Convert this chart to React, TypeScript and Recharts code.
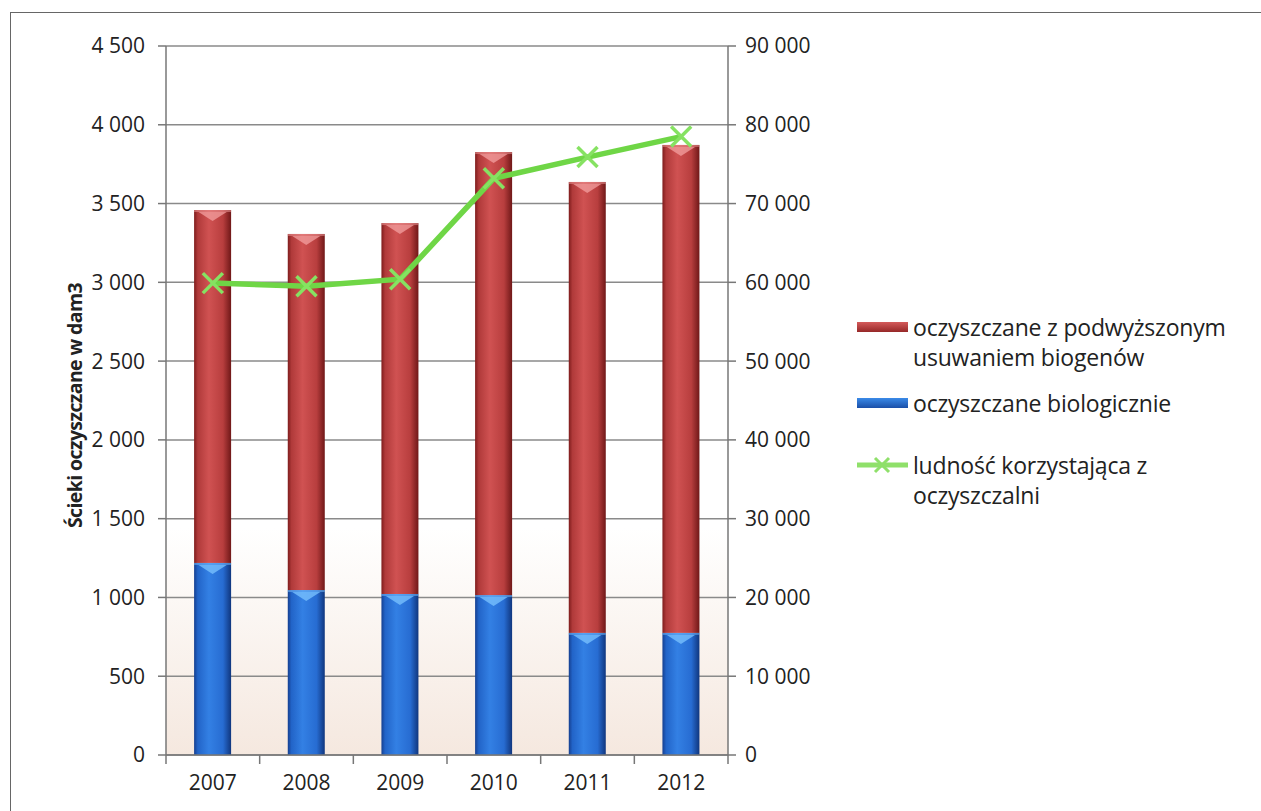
import React from 'react';
import { ComposedChart, Bar, Line, XAxis, YAxis, CartesianGrid, Legend, Label } from 'recharts';

const years = ['2007', '2008', '2009', '2010', '2011', '2012'];
const biological = [1219, 1047, 1022, 1015, 775, 775];
const enhanced = [2240, 2260, 2354, 2812, 2862, 3097];
const population = [59900, 59500, 60400, 73200, 75900, 78500];
const leftTicks = [0, 500, 1000, 1500, 2000, 2500, 3000, 3500, 4000, 4500];
const rightTicks = [0, 10000, 20000, 30000, 40000, 50000, 60000, 70000, 80000, 90000];

const seriesNames = {
  enhanced: 'oczyszczane z podwyższonym usuwaniem biogenów',
  biological: 'oczyszczane biologicznie',
  population: 'ludność korzystająca z oczyszczalni',
};

const data = years.map((y, i) => ({
  year: y,
  biological: biological[i],
  enhanced: enhanced[i],
  population: population[i],
}));

const W = 1261;
const H = 811;
const M = { top: 46, right: 433, bottom: 16, left: 10 };
const LEFT_AXIS_W = 156;
const RIGHT_AXIS_W = 100;
const PLOT_W = W - M.left - M.right - LEFT_AXIS_W - RIGHT_AXIS_W;
const BAND = PLOT_W / years.length;

const FONT = "'Open Sans', 'DejaVu Sans', sans-serif";
const TXT = '#222';

const fmt = (v: number) => String(v).replace(/\B(?=(\d{3})+(?!\d))/g, ' ');

const CylBar = (props: any) => {
  const { x, y, width, height, grad, cap } = props;
  if (!height || height <= 0) return null;
  return (
    <g>
      <rect x={x} y={y} width={width} height={height} fill={`url(#${grad})`} />
      <path
        d={`M${x + width * 0.12},${y + 2} L${x + width * 0.88},${y + 2} L${x + width * 0.5},${y + 11} Z`}
        fill={cap}
        opacity={0.75}
      />
      <rect x={x} y={y} width={width} height={2} fill={cap} opacity={0.5} />
    </g>
  );
};

const XMark = (props: any) => {
  const { cx, cy, index } = props;
  if (cx == null || cy == null) return null;
  const s = 10;
  return (
    <path
      key={`m${index}`}
      d={`M${cx - s},${cy - s}L${cx + s},${cy + s}M${cx + s},${cy - s}L${cx - s},${cy + s}`}
      stroke="#86e262"
      strokeWidth={3.5}
      fill="none"
    />
  );
};

const XTick = (props: any) => {
  const { x, y, payload, index } = props;
  const axisY = y - 20;
  return (
    <g>
      <line x1={x - BAND / 2} y1={axisY} x2={x - BAND / 2} y2={axisY + 9} stroke="#777" strokeWidth={1.5} />
      {index === years.length - 1 && (
        <line x1={x + BAND / 2} y1={axisY} x2={x + BAND / 2} y2={axisY + 9} stroke="#777" strokeWidth={1.5} />
      )}
      <text x={x} y={y} dy="0.72em" textAnchor="middle" fill={TXT} fontSize={21} fontFamily={FONT}>
        {payload.value}
      </text>
    </g>
  );
};

const LegendContent = () => {
  const row: React.CSSProperties = { display: 'flex', alignItems: 'flex-start' };
  const txt: React.CSSProperties = { fontSize: 23, lineHeight: '30px', color: TXT, fontFamily: FONT, letterSpacing: -0.2 };
  return (
    <div>
      <div style={{ ...row, marginBottom: 16 }}>
        <svg width={51} height={30} style={{ flex: 'none', marginRight: 5 }}>
          <rect x={0} y={10} width={51} height={10} fill="url(#redGradH)" />
        </svg>
        <div style={{ ...txt, width: 345 }}>{seriesNames.enhanced}</div>
      </div>
      <div style={{ ...row, marginBottom: 32 }}>
        <svg width={51} height={30} style={{ flex: 'none', marginRight: 5 }}>
          <rect x={0} y={10} width={51} height={10} fill="url(#blueGradH)" />
        </svg>
        <div style={txt}>{seriesNames.biological}</div>
      </div>
      <div style={row}>
        <svg width={51} height={30} style={{ flex: 'none', marginRight: 5 }}>
          <line x1={0} y1={15} x2={51} y2={15} stroke="#8fe06a" strokeWidth={5} />
          <path d="M18,8L32,22M32,8L18,22" stroke="#8fe06a" strokeWidth={3} />
        </svg>
        <div style={{ ...txt, width: 290 }}>{seriesNames.population}</div>
      </div>
    </div>
  );
};

export default function App() {
  return (
    <div style={{ position: 'absolute', left: 0, top: 0, width: W, height: H, background: '#fff', overflow: 'hidden' }}>
      <div
        style={{
          position: 'absolute',
          left: 10,
          top: 12,
          width: 1300,
          height: 900,
          border: '1.5px solid #666',
          boxSizing: 'border-box',
        }}
      />
      <div style={{ position: 'absolute', left: 0, top: 0 }}>
        <ComposedChart width={W} height={H} data={data} margin={M} barCategoryGap="30%">
          <defs>
            <linearGradient id="bgGrad" x1="0" y1="0" x2="0" y2="1">
              <stop offset="0" stopColor="#ffffff" />
              <stop offset="0.68" stopColor="#ffffff" />
              <stop offset="1" stopColor="#f5e8df" />
            </linearGradient>
            <linearGradient id="redGrad" x1="0" y1="0" x2="1" y2="0">
              <stop offset="0" stopColor="#7e1c1c" />
              <stop offset="0.1" stopColor="#b03a3a" />
              <stop offset="0.4" stopColor="#d05252" />
              <stop offset="0.78" stopColor="#b83e3e" />
              <stop offset="1" stopColor="#701818" />
            </linearGradient>
            <linearGradient id="blueGrad" x1="0" y1="0" x2="1" y2="0">
              <stop offset="0" stopColor="#153f90" />
              <stop offset="0.1" stopColor="#2264c8" />
              <stop offset="0.4" stopColor="#3380e4" />
              <stop offset="0.78" stopColor="#276cd2" />
              <stop offset="1" stopColor="#10367e" />
            </linearGradient>
            <linearGradient id="redGradH" x1="0" y1="0" x2="0" y2="1">
              <stop offset="0" stopColor="#d45a5a" />
              <stop offset="1" stopColor="#962828" />
            </linearGradient>
            <linearGradient id="blueGradH" x1="0" y1="0" x2="0" y2="1">
              <stop offset="0" stopColor="#3a8ae8" />
              <stop offset="1" stopColor="#1a4fa8" />
            </linearGradient>
          </defs>
          <CartesianGrid
            yAxisId="left"
            vertical={false}
            stroke="#8a8a8a"
            strokeWidth={1.5}
            fill="url(#bgGrad)"
          />
          <XAxis
            dataKey="year"
            height={40}
            axisLine={{ stroke: '#777', strokeWidth: 1.5 }}
            tickLine={false}
            tickSize={0}
            tickMargin={20}
            tick={<XTick />}
            interval={0}
          />
          <YAxis
            yAxisId="left"
            orientation="left"
            width={LEFT_AXIS_W}
            domain={[0, 4500]}
            ticks={leftTicks}
            tickFormatter={fmt}
            axisLine={{ stroke: '#777', strokeWidth: 1.5 }}
            tickLine={{ stroke: '#777', strokeWidth: 1.5 }}
            tickSize={8}
            tickMargin={13}
            tick={{ fill: TXT, fontSize: 21, fontFamily: FONT }}
            interval={0}
          >
            <Label
              content={(p: any) => {
                const vb = p.viewBox || {};
                const cx = (vb.x ?? 10) + 67;
                const cy = (vb.y ?? 46) + (vb.height ?? 709) / 2 + 5;
                return (
                  <text
                    x={cx}
                    y={cy}
                    transform={`rotate(-90, ${cx}, ${cy})`}
                    textAnchor="middle"
                    dominantBaseline="middle"
                    fill={TXT}
                    fontSize={19.5}
                    fontWeight={700}
                    fontFamily={FONT}
                    letterSpacing={-0.6}
                  >
                    Ścieki oczyszczane w dam3
                  </text>
                );
              }}
            />
          </YAxis>
          <YAxis
            yAxisId="right"
            orientation="right"
            width={RIGHT_AXIS_W}
            domain={[0, 90000]}
            ticks={rightTicks}
            tickFormatter={fmt}
            axisLine={{ stroke: '#777', strokeWidth: 1.5 }}
            tickLine={{ stroke: '#777', strokeWidth: 1.5 }}
            tickSize={8}
            tickMargin={9}
            tick={{ fill: TXT, fontSize: 21, fontFamily: FONT, textAnchor: 'start' }}
            interval={0}
          />
          <Bar
            yAxisId="left"
            dataKey="biological"
            name={seriesNames.biological}
            stackId="s"
            fill="#2a6fd6"
            shape={<CylBar grad="blueGrad" cap="#7cc4ff" />}
            isAnimationActive={false}
          />
          <Bar
            yAxisId="left"
            dataKey="enhanced"
            name={seriesNames.enhanced}
            stackId="s"
            fill="#c04848"
            shape={<CylBar grad="redGrad" cap="#f3a0a0" />}
            isAnimationActive={false}
          />
          <Line
            yAxisId="right"
            dataKey="population"
            name={seriesNames.population}
            type="linear"
            stroke="#6fd646"
            strokeWidth={5.5}
            dot={<XMark />}
            activeDot={false}
            isAnimationActive={false}
          />
          <Legend
            layout="vertical"
            align="center"
            verticalAlign="middle"
            content={<LegendContent />}
            wrapperStyle={{ position: 'absolute', left: 857, top: 312, width: 400 }}
          />
        </ComposedChart>
      </div>
    </div>
  );
}
